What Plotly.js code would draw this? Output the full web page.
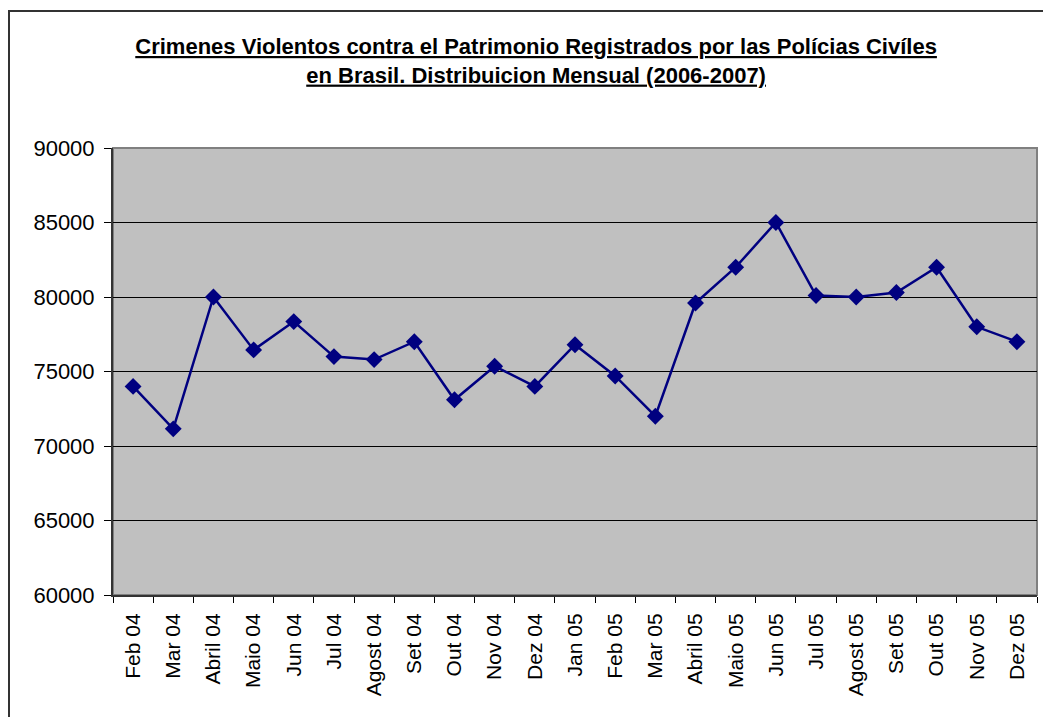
<!DOCTYPE html>
<html>
<head>
<meta charset="utf-8">
<script src="https://cdn.plot.ly/plotly-3.0.1.min.js"></script>
<style>
html,body{margin:0;padding:0;background:#fff;overflow:hidden;}
#chart{width:1043px;height:717px;position:absolute;left:0;top:0;}
#frame{position:absolute;left:8px;top:10px;width:2000px;height:2000px;border-left:2px solid #333;border-top:2px solid #333;pointer-events:none;}
</style>
</head>
<body>
<div id="chart"></div>
<div id="frame"></div>
<script>
var months = ["Feb 04","Mar 04","Abril 04","Maio 04","Jun 04","Jul 04","Agost 04","Set 04","Out 04","Nov 04","Dez 04","Jan 05","Feb 05","Mar 05","Abril 05","Maio 05","Jun 05","Jul 05","Agost 05","Set 05","Out 05","Nov 05","Dez 05"];
var crimes = [74000,71150,80000,76450,78350,76000,75800,77000,73100,75350,74000,76800,74700,72000,79600,82000,85000,80100,80000,80300,82000,78000,77000];
var yTicks = [60000,65000,70000,75000,80000,85000,90000];
var titleText = "<u>Crimenes Violentos contra el Patrimonio Registrados por las Polícias Civíles</u><br><u>en Brasil. Distribuicion Mensual (2006-2007)</u>";

var trace = {
  x: months,
  y: crimes,
  type: 'scatter',
  mode: 'lines+markers',
  line: {color: '#000080', width: 2.5},
  marker: {symbol: 'diamond', size: 13, color: '#000080'},
  hoverinfo: 'x+y'
};

var layout = {
  width: 1043,
  height: 717,
  paper_bgcolor: '#ffffff',
  plot_bgcolor: '#c0c0c0',
  margin: {l: 113, r: 6, t: 148, b: 122},
  showlegend: false,
  font: {family: 'Arial, "Liberation Sans", sans-serif', color: '#000'},
  title: {
    text: titleText,
    font: {family: 'Arial, "Liberation Sans", sans-serif', size: 22, color: '#000', weight: 'bold'},
    x: 0.514, xref: 'container', xanchor: 'center',
    y: 1 - 54/717, yref: 'container', yanchor: 'top'
  },
  xaxis: {
    type: 'category',
    tickmode: 'array',
    tickvals: months,
    ticktext: months,
    tickangle: -90,
    tickfont: {size: 21, color: '#000'},
    ticks: 'outside',
    tickson: 'boundaries',
    ticklen: 6,
    tickcolor: '#000',
    tickwidth: 1,
    ticklabelstandoff: 8,
    showline: true,
    linecolor: '#333',
    linewidth: 2,
    showgrid: false,
    zeroline: false,
    range: [-0.5, months.length - 0.5],
    fixedrange: true
  },
  yaxis: {
    range: [60000, 90000],
    tickmode: 'array',
    tickvals: yTicks,
    ticktext: yTicks.map(String),
    tickfont: {size: 22, color: '#000'},
    ticks: 'outside',
    ticklen: 7,
    tickcolor: '#000',
    tickwidth: 1,
    ticklabelstandoff: 5,
    showline: true,
    linecolor: '#333',
    linewidth: 2,
    showgrid: true,
    gridcolor: '#000',
    gridwidth: 1,
    zeroline: false,
    fixedrange: true
  },
  shapes: [{
    type: 'rect', xref: 'paper', yref: 'paper', x0: 0, x1: 1, y0: 0, y1: 1,
    line: {color: '#808080', width: 2}, layer: 'below'
  }]
};

Plotly.newPlot('chart', [trace], layout, {displayModeBar: false, staticPlot: true});
</script>
</body>
</html>
